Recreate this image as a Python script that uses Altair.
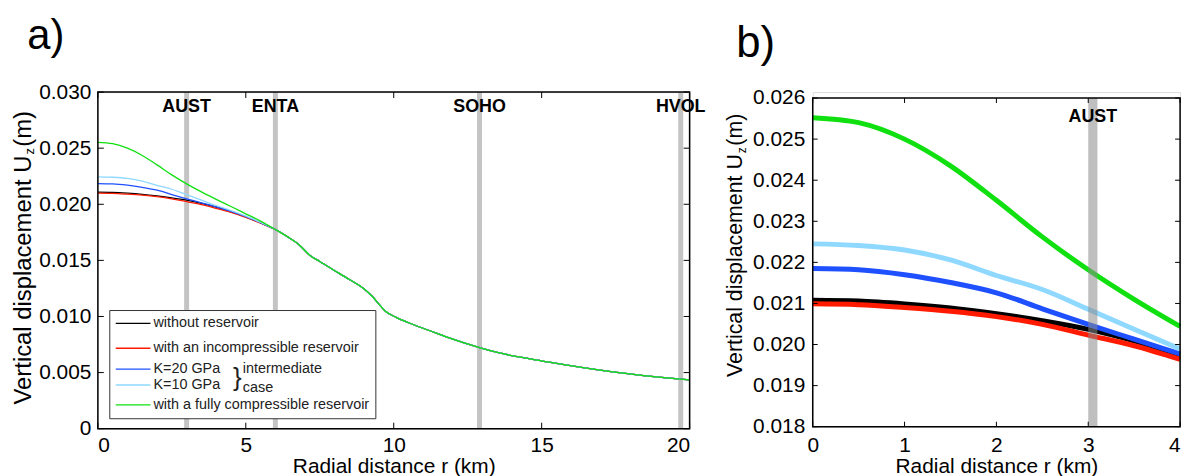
import altair as alt
import pandas as pd

# ---------------- data ----------------
series_names = ["without reservoir", "with an incompressible reservoir",
                "K=20 GPa", "K=10 GPa", "with a fully compressible reservoir"]
series_colors = ["#000000", "#ff1a00", "#1e50ff", "#8fd8ff", "#10e010"]

# near-field radial distances (km), panel b and start of panel a
r_near = [0, 0.5, 1, 1.5, 2, 2.5, 3, 3.5, 4]
uz_black = [0.02108, 0.02106, 0.02099, 0.02089, 0.02075, 0.02058, 0.02037, 0.02009, 0.01975]
uz_red = [0.02099, 0.02097, 0.02090, 0.02081, 0.02068, 0.02049, 0.02023, 0.01997, 0.01964]
uz_k20 = [0.02185, 0.02182, 0.02170, 0.02151, 0.02126, 0.02087, 0.02049, 0.02013, 0.01977]
uz_k10 = [0.02245, 0.02241, 0.02230, 0.02206, 0.02168, 0.02134, 0.02086, 0.02037, 0.01989]
uz_green = [0.02552, 0.02540, 0.02500, 0.02435, 0.02351, 0.02262, 0.02182, 0.02110, 0.02044]

# transition zone (panel a)
r_mid = [4.5, 5, 5.5]
mid_black = [0.01935, 0.01888, 0.01834]
mid_red = [0.01928, 0.01884, 0.01832]
mid_k20 = [0.01937, 0.01890, 0.01836]
mid_k10 = [0.01944, 0.01895, 0.01839]
mid_green = [0.01980, 0.01915, 0.01850]

# far field, identical for all models (panel a)
r_far = [6.0, 6.5, 6.8, 7.15, 7.5, 7.9, 8.5, 9.0, 9.27, 9.5, 9.72, 10.1, 10.5,
         11.2, 11.85, 12.9, 13.5, 15.2, 17.4, 19.7, 20.0]
uz_far = [0.01775, 0.01695, 0.01640, 0.01549, 0.01490, 0.01425, 0.01330, 0.01245,
          0.01180, 0.01110, 0.01047, 0.00990, 0.00944, 0.00875, 0.00811, 0.00722,
          0.00679, 0.00596, 0.00507, 0.00442, 0.00435]

station_names = ["AUST", "ENTA", "SOHO", "HVOL"]
station_r = [3.0, 6.0, 12.9, 19.7]
zoom_station = ["AUST"]
zoom_station_r0 = [3.0]
zoom_station_r1 = [3.1]

x_ticks_a = [0, 5, 10, 15, 20]
y_ticks_a = [0, 0.005, 0.010, 0.015, 0.020, 0.025, 0.030]
x_ticks_b = [0, 1, 2, 3, 4]
y_ticks_b = [0.018, 0.019, 0.020, 0.021, 0.022, 0.023, 0.024, 0.025, 0.026]

near_vals = [uz_black, uz_red, uz_k20, uz_k10, uz_green]
mid_vals = [mid_black, mid_red, mid_k20, mid_k10, mid_green]

FONT = "Liberation Sans"
one = pd.DataFrame({"k": [0]})

def series_frame(i, full):
    if full:
        r = r_near + r_mid + r_far
        u = near_vals[i] + mid_vals[i] + uz_far
    else:
        r = r_near
        u = near_vals[i]
    return pd.DataFrame({"r": r, "uz": u})

def txt(s, x, y, size, align="left", baseline="alphabetic", angle=0, weight="normal", color="black"):
    kw = dict(fontSize=size, align=align, baseline=baseline, font=FONT,
              fontWeight=weight, color=color)
    if angle:
        kw["angle"] = angle
    return alt.Chart(one).mark_text(**kw).encode(
        x=alt.value(x), y=alt.value(y), text=alt.value(s))

LAB = 21      # tick label size
TIT = 21      # x title size

# ---------------- panel a ----------------
W1, H1 = 596, 339
xa = alt.X("r:Q", scale=alt.Scale(domain=[0, 20], nice=False),
           axis=alt.Axis(values=x_ticks_a, format="d", ticks=False, domain=False, grid=False,
                         labelFontSize=LAB, labelPadding=6, labelFont=FONT, labelColor="black",
                         title="Radial distance r (km)", titleFontSize=TIT, titleFont=FONT,
                         titleFontWeight="normal", titlePadding=0, titleColor="black"))
ya = alt.Y("uz:Q", scale=alt.Scale(domain=[0, 0.03], nice=False),
           axis=alt.Axis(values=y_ticks_a, ticks=False, domain=False, grid=False,
                         labelExpr="datum.value == 0 ? '0' : format(datum.value, '.3f')",
                         labelFontSize=LAB, labelPadding=7, labelFont=FONT, labelColor="black",
                         title=None))

st_df = pd.DataFrame({"r": station_r, "name": station_names})
layers_a = []
layers_a.append(alt.Chart(st_df).mark_rule(color="#c4c4c4", strokeWidth=5).encode(x=xa))
for i in range(5):
    layers_a.append(alt.Chart(series_frame(i, True)).mark_line(
        color=series_colors[i], strokeWidth=1.3, interpolate="monotone").encode(x=xa, y=ya))
xt_a = pd.DataFrame({"r": x_ticks_a})
yt_a = pd.DataFrame({"uz": y_ticks_a})
layers_a.append(alt.Chart(xt_a).mark_rule(color="black", strokeWidth=1).encode(
    x=xa, y=alt.value(H1), y2=alt.value(H1 - 6)))
layers_a.append(alt.Chart(xt_a).mark_rule(color="black", strokeWidth=1).encode(
    x=xa, y=alt.value(0), y2=alt.value(6)))
layers_a.append(alt.Chart(yt_a).mark_rule(color="black", strokeWidth=1).encode(
    y=ya, x=alt.value(0), x2=alt.value(6)))
layers_a.append(alt.Chart(yt_a).mark_rule(color="black", strokeWidth=1).encode(
    y=ya, x=alt.value(W1), x2=alt.value(W1 - 6)))
layers_a.append(alt.Chart(st_df).mark_text(fontSize=18, fontWeight="bold", font=FONT,
                                           baseline="middle", color="black").encode(
    x=xa, y=alt.value(15), text="name:N"))
# legend (drawn by hand, with the brace for the intermediate case)
LB = H1 - 10
layers_a.append(alt.Chart(one).mark_rect(fill="white", stroke="#333333", strokeWidth=1).encode(
    x=alt.value(12), x2=alt.value(280), y=alt.value(LB - 109), y2=alt.value(LB)))
leg_rows = [LB - 96, LB - 71, LB - 50, LB - 34, LB - 14]
for i in range(5):
    layers_a.append(alt.Chart(one).mark_rule(color=series_colors[i], strokeWidth=1.3).encode(
        x=alt.value(18), x2=alt.value(53), y=alt.value(leg_rows[i]), y2=alt.value(leg_rows[i])))
    layers_a.append(txt(series_names[i], 56, leg_rows[i], 14.5, baseline="middle", color="#222222"))
layers_a.append(txt("}", 136, LB - 41, 26, baseline="middle", color="#222222"))
layers_a.append(txt("intermediate", 146, LB - 50, 14.5, baseline="middle", color="#222222"))
layers_a.append(txt("case", 146, LB - 31, 14.5, baseline="middle", color="#222222"))
# frame
layers_a.append(alt.Chart(one).mark_rect(fillOpacity=0, stroke="black", strokeWidth=1.5).encode(
    x=alt.value(0), x2=alt.value(W1), y=alt.value(0), y2=alt.value(H1)))
# y title with subscript z
layers_a.append(txt("Vertical displacement U", -74, 64, 24, align="right", baseline="middle", angle=270))
layers_a.append(txt("z", -68, 59.5, 13, align="center", baseline="middle", angle=270))
layers_a.append(txt("(m)", -74, 55, 24, align="left", baseline="middle", angle=270))
layers_a.append(txt("a)", -71, -43, 42))

chart_a = alt.layer(*layers_a).properties(width=W1, height=H1)

# ---------------- panel b ----------------
W2, H2, T2 = 370, 337, 6
xb = alt.X("r:Q", scale=alt.Scale(domain=[0, 4], nice=False),
           axis=alt.Axis(values=x_ticks_b, format="d", ticks=False, domain=False, grid=False,
                         labelAlign={"condition": {"test": "datum.value == 4", "value": "right"},
                                     "value": "center"},
                         labelFontSize=LAB, labelPadding=6 + (H1 - H2), labelFont=FONT,
                         labelColor="black",
                         title="Radial distance r (km)", titleFontSize=TIT, titleFont=FONT,
                         titleFontWeight="normal", titlePadding=0, titleColor="black"))
yb = alt.Y("uz:Q", scale=alt.Scale(domain=[0.018, 0.026], nice=False, range=[H2, T2]),
           axis=alt.Axis(values=y_ticks_b, format=".3f", ticks=False, domain=False, grid=False,
                         labelFontSize=LAB, labelPadding=8, labelFont=FONT, labelColor="black",
                         title=None))

layers_b = []
for i in range(5):
    layers_b.append(alt.Chart(series_frame(i, False)).mark_line(
        color=series_colors[i], strokeWidth=5, interpolate="monotone").encode(x=xb, y=yb))
zst = pd.DataFrame({"r": zoom_station_r0, "r1": zoom_station_r1, "name": zoom_station})
layers_b.append(alt.Chart(zst).mark_rect(color="#8a8a8a", opacity=0.55).encode(
    x=xb, x2="r1:Q", y=alt.value(T2), y2=alt.value(H2)))
zst["rc"] = [(a + b) / 2 for a, b in zip(zoom_station_r0, zoom_station_r1)]
layers_b.append(alt.Chart(zst).mark_text(fontSize=18, fontWeight="bold", font=FONT,
                                         baseline="middle", color="black").encode(
    x=alt.X("rc:Q", scale=alt.Scale(domain=[0, 4], nice=False)), y=alt.value(T2 + 19), text="name:N"))
xt_b = pd.DataFrame({"r": x_ticks_b})
yt_b = pd.DataFrame({"uz": y_ticks_b})
layers_b.append(alt.Chart(xt_b).mark_rule(color="black", strokeWidth=1).encode(
    x=xb, y=alt.value(H2), y2=alt.value(H2 - 5)))
layers_b.append(alt.Chart(xt_b).mark_rule(color="black", strokeWidth=1).encode(
    x=xb, y=alt.value(T2), y2=alt.value(T2 + 5)))
layers_b.append(alt.Chart(yt_b).mark_rule(color="black", strokeWidth=1).encode(
    y=yb, x=alt.value(0), x2=alt.value(5)))
layers_b.append(alt.Chart(yt_b).mark_rule(color="black", strokeWidth=1).encode(
    y=yb, x=alt.value(W2), x2=alt.value(W2 - 5)))
layers_b.append(alt.Chart(one).mark_rect(fillOpacity=0, stroke="black", strokeWidth=1.5).encode(
    x=alt.value(0), x2=alt.value(W2), y=alt.value(T2), y2=alt.value(H2)))
layers_b.append(txt("Vertical displacement U", -77, 62.5, 21.5, align="right", baseline="middle", angle=270))
layers_b.append(txt("z", -71.5, 58.5, 12, align="center", baseline="middle", angle=270))
layers_b.append(txt("(m)", -77, 54, 21.5, align="left", baseline="middle", angle=270))
layers_b.append(txt("b)", -77, -35, 44))

chart_b = alt.layer(*layers_b).properties(width=W2, height=H2)

chart = alt.hconcat(chart_a, chart_b, spacing=18).properties(
    padding={"left": 3.5, "top": 5, "right": 0, "bottom": 0}
).configure_view(stroke="transparent", strokeWidth=0).configure(background="white")

chart.save("out.html", embed_options={"renderer": "svg", "actions": False})
